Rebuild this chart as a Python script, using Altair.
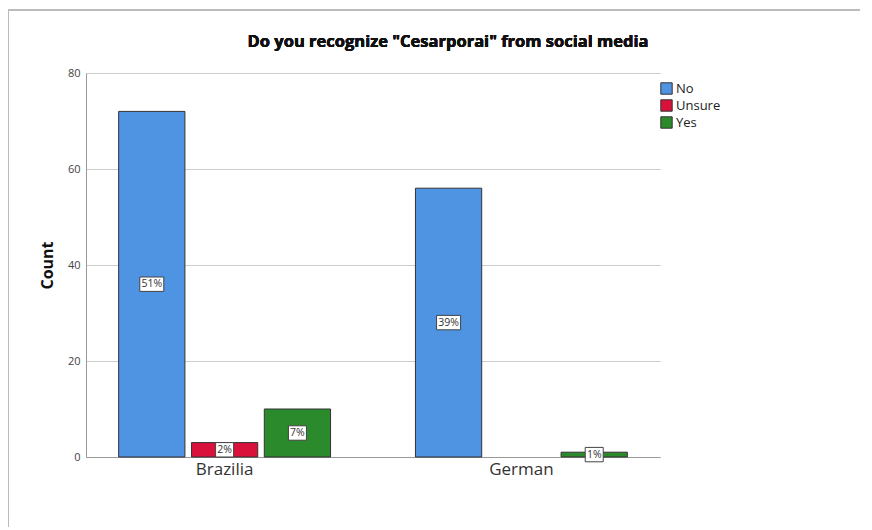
import altair as alt
import pandas as pd

groups = ["Brazilia", "Brazilia", "Brazilia", "German", "German"]
answers = ["No", "Unsure", "Yes", "No", "Yes"]
counts = [72, 3, 10, 56, 1]
pct_labels = ["51%", "2%", "7%", "39%", "1%"]

group_order = ["Brazilia", "German"]
answer_order = ["No", "Unsure", "Yes"]
colors = ["#4f93e3", "#d8123a", "#2b8a2b"]
y_ticks = [0, 20, 40, 60, 80]
title_text = 'Do you recognize "Cesarporai" from social media'

df = pd.DataFrame({"group": groups, "answer": answers, "count": counts, "label": pct_labels})

FONT = "Open Sans"

x_enc = alt.X("group:N", sort=group_order,
              scale=alt.Scale(paddingInner=0.286, paddingOuter=0.11),
              axis=alt.Axis(title=None, labelAngle=0, labelFontSize=17, labelColor="#333",
                            labelFont=FONT, ticks=False, domainColor="#999", labelPadding=4))
xo_enc = alt.XOffset("answer:N", sort=answer_order,
                     scale=alt.Scale(paddingInner=0.09, paddingOuter=0))

base = alt.Chart(df)

bars = base.mark_bar(stroke="#333", strokeWidth=1).encode(
    x=x_enc,
    xOffset=xo_enc,
    y=alt.Y("count:Q", scale=alt.Scale(domain=[0, 80], nice=False),
            axis=alt.Axis(title="Count", values=y_ticks, titleFontSize=16, titleFont=FONT,
                          titleFontWeight="bold", titleColor="#111", titlePadding=12,
                          labelFontSize=11, labelColor="#444", labelFont=FONT,
                          ticks=False, labelPadding=6, domainColor="#999",
                          gridColor="#cccccc")),
    color=alt.Color("answer:N", sort=answer_order,
                    scale=alt.Scale(domain=answer_order, range=colors),
                    legend=alt.Legend(title=None, orient="none", legendX=574, legendY=9,
                                      symbolType="square", symbolSize=130,
                                      symbolStrokeColor="#333", symbolStrokeWidth=1,
                                      labelFontSize=13, labelFont=FONT, labelColor="#222",
                                      rowPadding=0, labelOffset=3)),
)

box3 = "M-1,-0.6H1V0.6H-1Z"
box2 = "M-0.75,-0.6H0.75V0.6H-0.75Z"

boxes = base.transform_calculate(
    mid="datum.count / 2", nch="length(datum.label) > 2 ? 'w' : 'n'"
).mark_point(filled=True, fill="white", stroke="#444", strokeWidth=1, size=576, opacity=1).encode(
    x=alt.X("group:N", sort=group_order),
    xOffset=alt.XOffset("answer:N", sort=answer_order),
    y=alt.Y("mid:Q"),
    shape=alt.Shape("nch:N", scale=alt.Scale(domain=["w", "n"], range=[box3, box2]), legend=None),
)

texts = base.transform_calculate(mid="datum.count / 2").mark_text(
    fontSize=10.5, font=FONT, color="#333", baseline="middle"
).encode(
    x=alt.X("group:N", sort=group_order),
    xOffset=alt.XOffset("answer:N", sort=answer_order),
    y=alt.Y("mid:Q"),
    text="label:N",
)

title = base.mark_text(text=title_text, fontSize=16.5, font=FONT, fontWeight="bold",
                       color="#111", align="center", baseline="middle").encode(
    x=alt.value(362), y=alt.value(-31)
)

frame = base.mark_rule(color="#bbbbbb", strokeWidth=2).encode(
    x=alt.value(-78), x2=alt.value(790), y=alt.value(-63)
)
frame_left = base.mark_rule(color="#bbbbbb", strokeWidth=2).encode(
    x=alt.value(-78), y=alt.value(-63), y2=alt.value(540)
)

chart = alt.layer(frame, frame_left, bars, boxes, texts, title).properties(
    width=574, height=384,
    autosize=alt.AutoSizeParams(type="none"),
    padding={"left": 78, "top": 65, "right": 200, "bottom": 70},
).resolve_scale(shape="independent").configure_view(stroke=None)

chart.save("out.html", embed_options={"renderer": "svg", "actions": False})
